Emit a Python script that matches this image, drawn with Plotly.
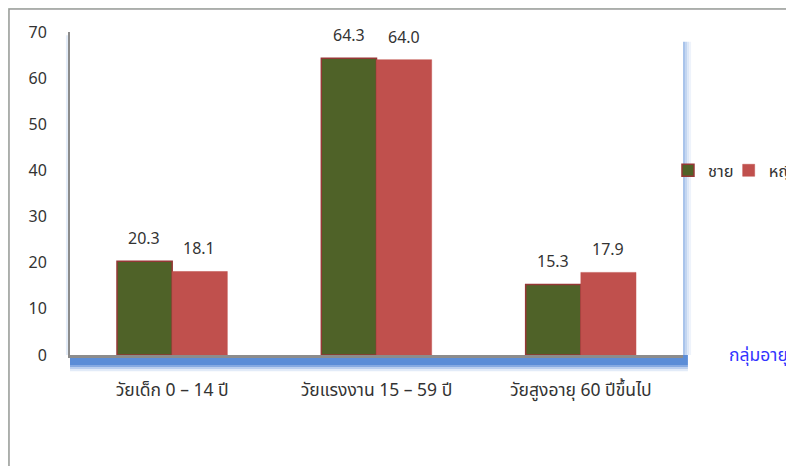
import plotly.graph_objects as go

categories = ["วัยเด็ก 0 – 14 ปี", "วัยแรงงาน 15 – 59 ปี", "วัยสูงอายุ 60 ปีขึ้นไป"]
male = [20.3, 64.3, 15.3]
female = [18.1, 64.0, 17.9]
series_names = ["ชาย", "หญิง"]
y_ticks = [0, 10, 20, 30, 40, 50, 60, 70]
axis_title = "กลุ่มอายุ"

FONT = "Tahoma, 'Noto Sans Thai', 'Noto Sans', 'DejaVu Sans', sans-serif"
GREEN = "#4F6228"
RED = "#C0504D"

fig = go.Figure()
fig.add_trace(go.Bar(x=categories, y=male, name=series_names[0], legend="legend",
                     marker=dict(color=GREEN, line=dict(color="#953735", width=1.5))))
fig.add_trace(go.Bar(x=categories, y=female, name=series_names[1], legend="legend2",
                     marker=dict(color=RED, line=dict(color=RED, width=0.5))))

annotations = []
for vals, shift in ((male, -28), (female, 27)):
    for c, v in zip(categories, vals):
        annotations.append(dict(x=c, y=v, text=f"{v:.1f}", showarrow=False,
                                xref="x", yref="y", yanchor="bottom", yshift=8, xshift=shift,
                                font=dict(size=16, color="#333333", family=FONT)))
annotations.append(dict(x=1.071, y=0, xref="paper", yref="paper", text=axis_title,
                        showarrow=False, xanchor="left", yanchor="middle",
                        font=dict(size=17.5, color="#3333FF", family=FONT)))

L, R, T, B = 62, 119, 24, 119
PW = 794 - L - R
PH = 466 - T - B

shapes = [
    # white panel
    dict(type="rect", xref="paper", yref="paper", x0=(1 - L) / PW, x1=1.3, y0=-0.5,
         y1=1 + (T - 1) / PH,
         fillcolor="white", line=dict(color="#9A9A9A", width=1.5), layer="below"),
]
# right wall glow
for i, col in enumerate(["#A9C4EB", "#C3D6F1", "#DCE7F7", "#EEF3FB"]):
    shapes.append(dict(type="rect", xref="paper", yref="paper",
                       x0=1.0 + i * 0.0033, x1=1.0 + (i + 1) * 0.0033, y0=0, y1=0.97,
                       fillcolor=col, line=dict(width=0), layer="below"))
# left axis glow
for i, col in enumerate(["#C9DAF2", "#E3ECF8"]):
    shapes.append(dict(type="rect", xref="paper", yref="paper",
                       x0=-0.0033 * (i + 1), x1=-0.0033 * i, y0=0, y1=0.99,
                       fillcolor=col, line=dict(width=0), layer="below"))
# floor band
floor = [("#5B8DD7", 0.0, 0.031), ("#86AAE2", 0.031, 0.037), ("#BCD0EF", 0.037, 0.043), ("#E2EBF8", 0.043, 0.05)]
for col, a, b in floor:
    shapes.append(dict(type="rect", xref="paper", yref="paper",
                       x0=0.0, x1=1.008, y0=-b, y1=-a,
                       fillcolor=col, line=dict(width=0), layer="below"))

legend_common = dict(orientation="h", xanchor="left", y=0.571, yanchor="middle",
                     font=dict(size=16.5, color="#333333", family=FONT),
                     bgcolor="rgba(0,0,0,0)", itemwidth=30, tracegroupgap=0)

fig.update_layout(
    width=794, height=466,
    margin=dict(l=L, r=R, t=T, b=B, autoexpand=False),
    paper_bgcolor="#DBEEDB",
    plot_bgcolor="rgba(0,0,0,0)",
    barmode="group", bargap=0.46, bargroupgap=0.0,
    font=dict(family=FONT, size=16, color="#333333"),
    showlegend=True,
    legend=dict(x=0.9755, **legend_common),
    legend2=dict(x=1.0745, **legend_common),
    annotations=annotations,
    shapes=shapes,
    xaxis=dict(showgrid=False, showline=True, linecolor="#8C8C8C", linewidth=2.5,
               ticks="", tickfont=dict(size=17.5, color="#333333"), ticklabelstandoff=17),
    yaxis=dict(range=[0, 70], tickvals=y_ticks, showgrid=False, zeroline=False,
               showline=True, linecolor="#8C8C8C", linewidth=2, ticks="",
               tickfont=dict(size=16, color="#333333"), ticklabelstandoff=18),
)

fig.write_html("out.html")
